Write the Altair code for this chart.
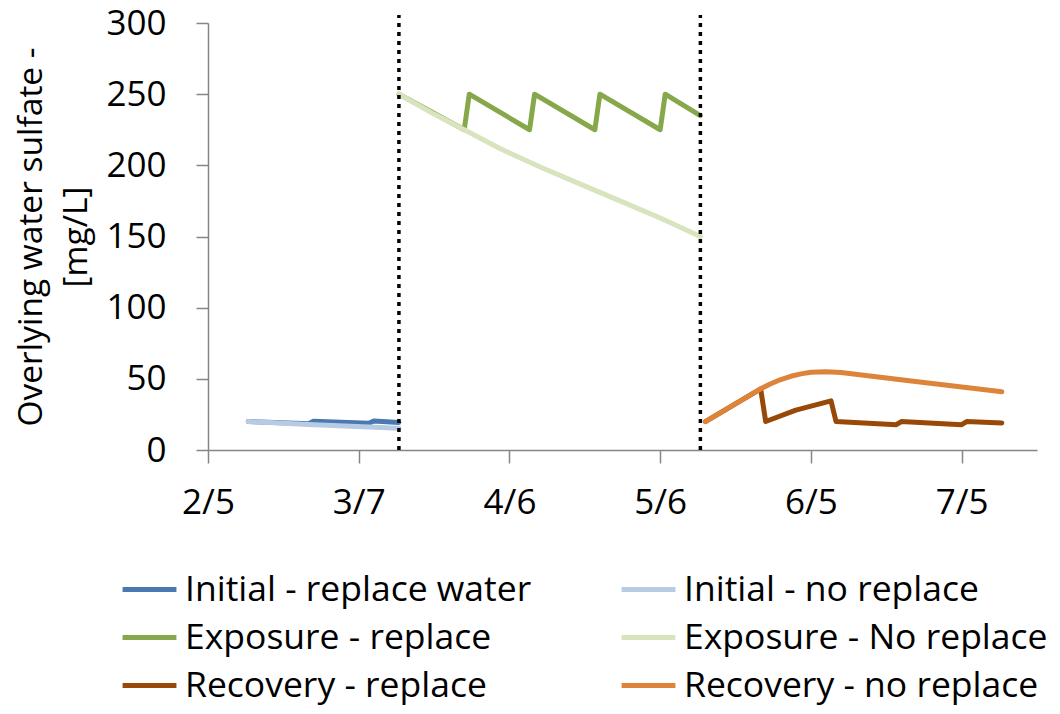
import altair as alt
import pandas as pd

# ---- data ----
series_names = [
    "Initial - replace water",
    "Initial - no replace",
    "Exposure - replace",
    "Exposure - No replace",
    "Recovery - replace",
    "Recovery - no replace",
]
series_colors = ["#4A78B0", "#B7CCE4", "#86A84A", "#D7E4BD", "#984807", "#DE843A"]

init_rep_dates = ["2015/02/13", "2015/02/25", "2015/02/26", "2015/03/09", "2015/03/10", "2015/03/15"]
init_rep_vals = [20, 18.4, 20.2, 18.8, 20.4, 19.4]

init_no_dates = ["2015/02/13", "2015/02/25", "2015/03/09", "2015/03/15"]
init_no_vals = [20, 18.0, 16.2, 15.3]

exp_rep_dates = ["2015/03/15", "2015/03/28", "2015/03/29", "2015/04/10", "2015/04/11",
                 "2015/04/23", "2015/04/24", "2015/05/06", "2015/05/07", "2015/05/14"]
exp_rep_vals = [250, 225, 250, 225, 250, 225, 250, 225, 250, 235]

exp_no_dates = ["2015/03/15", "2015/03/22", "2015/03/28", "2015/04/04", "2015/04/12",
                "2015/04/20", "2015/04/28", "2015/05/06", "2015/05/14"]
exp_no_vals = [250, 236, 225, 212, 199, 187, 175, 163, 150]

rec_rep_dates = ["2015/05/15", "2015/05/26", "2015/05/27", "2015/06/02", "2015/06/09", "2015/06/10",
                 "2015/06/22", "2015/06/23", "2015/07/05", "2015/07/06", "2015/07/13"]
rec_rep_vals = [20, 43, 20, 28, 34.5, 20, 17.8, 20, 17.8, 20, 19]

rec_no_dates = ["2015/05/15", "2015/05/26", "2015/05/28", "2015/05/30", "2015/06/01", "2015/06/03",
                "2015/06/05", "2015/06/08", "2015/06/11", "2015/06/25", "2015/07/13"]
rec_no_vals = [20, 43, 46.5, 49.5, 51.8, 53.5, 54.6, 55, 54.4, 48.5, 41]

phase_change_dates = ["2015/03/15", "2015/05/14"]

tick_dates = [(2, 5), (3, 7), (4, 6), (5, 6), (6, 5), (7, 5)]
y_ticks = [0, 50, 100, 150, 200, 250, 300]

# ---- build tables ----
all_dates = [init_rep_dates, init_no_dates, exp_rep_dates, exp_no_dates, rec_rep_dates, rec_no_dates]
all_vals = [init_rep_vals, init_no_vals, exp_rep_vals, exp_no_vals, rec_rep_vals, rec_no_vals]
frames = []
for name, d, v in zip(series_names, all_dates, all_vals):
    frames.append(pd.DataFrame({"date": d, "value": v, "series": name}))
df = pd.concat(frames, ignore_index=True)
rules_df = pd.DataFrame({"date": phase_change_dates})

FONT = "Open Sans"
FS = 35

x_scale = alt.Scale(domain=[alt.DateTime(year=2015, month=2, date=5),
                            alt.DateTime(year=2015, month=7, date=20)])
y_scale = alt.Scale(domain=[0, 300], nice=False)
color_scale = alt.Scale(domain=series_names, range=series_colors)

x_axis = alt.Axis(
    values=[alt.DateTime(year=2015, month=m, date=d) for m, d in tick_dates],
    format="%-m/%-d", title=None, grid=False,
    labelFont=FONT, labelFontSize=FS, labelColor="black",
    tickSize=13, tickColor="#868686", tickWidth=1.5,
    domainColor="#868686", domainWidth=1.5, labelPadding=22,
    labelFlush=False, labelOverlap=False,
)
y_axis = alt.Axis(
    values=y_ticks, grid=False,
    title=["Overlying water sulfate -", "[mg/L]"],
    titleFont=FONT, titleFontSize=33.5, titleFontWeight="normal", titleColor="black",
    titleLineHeight=45, titlePadding=12,
    labelFont=FONT, labelFontSize=FS, labelColor="black",
    tickSize=12, tickColor="#868686", tickWidth=1.5,
    domainColor="#868686", domainWidth=1.5, labelPadding=30,
)

legend = alt.Legend(
    title=None, orient="none", legendX=-88, legendY=537,
    columns=2, direction="horizontal",
    symbolType="stroke", symbolStrokeWidth=5, symbolSize=2900,
    labelFont=FONT, labelFontSize=35.5, labelColor="black", labelOffset=6,
    labelLimit=0, rowPadding=-3.5, columnPadding=79, symbolOpacity=1,
)

layers = []
for name in series_names:
    layers.append(
        alt.Chart(df).transform_filter(alt.datum.series == name)
        .mark_line(strokeWidth=5, strokeCap="round", strokeJoin="round")
        .encode(
            x=alt.X("date:T", scale=x_scale, axis=x_axis),
            y=alt.Y("value:Q", scale=y_scale, axis=y_axis),
            color=alt.Color("series:N", scale=color_scale, legend=legend),
        )
    )

rules = alt.Chart(rules_df).mark_rule(strokeDash=[4, 5], strokeWidth=3.5, color="black").encode(
    x=alt.X("date:T", scale=x_scale),
    y=alt.datum(0),
    y2=alt.value(-8),
)

chart = alt.layer(*layers, rules).properties(
    width=829, height=427,
    autosize=alt.AutoSizeParams(type="none"),
    padding={"left": 200, "top": 15, "right": 15, "bottom": 256},
).configure_view(stroke=None)

chart.save("out.html", embed_options={"renderer": "svg", "actions": False})
